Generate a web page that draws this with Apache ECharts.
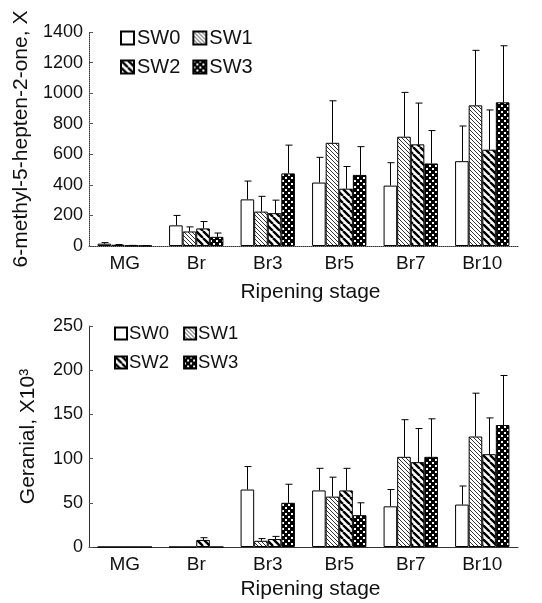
<!DOCTYPE html>
<html>
<head>
<meta charset="utf-8">
<script src="https://cdn.jsdelivr.net/npm/echarts@6/dist/echarts.min.js"></script>
<style>
  html, body { margin: 0; padding: 0; background: #fff; }
  #chart { width: 542px; height: 603px; }
</style>
</head>
<body>
<div id="chart"></div>
<script>
// ripening stages
var stages = ['MG', 'Br', 'Br3', 'Br5', 'Br7', 'Br10']
var names = ['SW0', 'SW1', 'SW2', 'SW3']

// 6-methyl-5-hepten-2-one (top)
var mhoSW0 = [15, 135, 305, 415, 395, 555]
var mhoSW1 = [8, 95, 225, 675, 715, 920]
var mhoSW2 = [3, 115, 215, 375, 665, 630]
var mhoSW3 = [2, 60, 475, 465, 540, 940]
var mhoSd0 = [7, 65, 120, 165, 150, 230]
var mhoSd1 = [2, 30, 100, 275, 290, 360]
var mhoSd2 = [1, 45, 85, 145, 270, 260]
var mhoSd3 = [1, 25, 185, 185, 215, 370]

// geranial x10^3 (bottom)
var gerSW0 = [0, 0, 65, 64, 46, 48]
var gerSW1 = [0, 0, 7, 57, 102, 125]
var gerSW2 = [0, 8, 9, 64, 96, 105]
var gerSW3 = [0, 0, 50, 36, 102, 138]
var gerSd0 = [0, 0, 26, 25, 19, 21]
var gerSd1 = [0, 0, 2.5, 22, 42, 49]
var gerSd2 = [0, 2.5, 3, 25, 38, 41]
var gerSd3 = [0, 0, 21, 14, 43, 56]

var FONT = 'Liberation Sans'
var GAP = 0.24

// fill patterns
function tile(w, h, draw) {
  var c = document.createElement('canvas')
  c.width = w
  c.height = h
  draw(c.getContext('2d'))
  return { image: c, repeat: 'repeat' }
}
var fills = [
  '#fff',
  tile(4, 4, function (g) {
    g.fillStyle = '#fff'; g.fillRect(0, 0, 4, 4)
    g.strokeStyle = '#333'; g.lineWidth = 1
    g.beginPath()
    for (var k = -1; k <= 1; k++) { g.moveTo(k * 4, 0); g.lineTo(k * 4 + 4, 4) }
    g.stroke()
  }),
  tile(7, 7, function (g) {
    g.fillStyle = '#fff'; g.fillRect(0, 0, 7, 7)
    g.strokeStyle = '#000'; g.lineWidth = 2.4
    g.beginPath()
    for (var k = -1; k <= 1; k++) { g.moveTo(k * 7, 0); g.lineTo(k * 7 + 7, 7) }
    g.stroke()
  }),
  tile(6, 6, function (g) {
    g.fillStyle = '#000'; g.fillRect(0, 0, 6, 6)
    g.fillStyle = '#fff'
    g.fillRect(0, 0, 2, 2)
    g.fillRect(3, 3, 2, 2)
  })
]

function barSeries(idx, data, axis) {
  return {
    type: 'bar', name: names[idx], data: data,
    xAxisIndex: axis, yAxisIndex: axis,
    barGap: '0%', barCategoryGap: (GAP * 100) + '%',
    itemStyle: { color: fills[idx], borderColor: '#000', borderWidth: 1 },
    z: 2
  }
}

function errSeries(idx, vals, sds, axis) {
  return {
    type: 'custom', name: names[idx] + ' sd',
    xAxisIndex: axis, yAxisIndex: axis, z: 3,
    data: vals.map(function (v, i) { return [i, v, v + sds[i]] }),
    renderItem: function (params, api) {
      var ci = api.value(0), v = api.value(1), hi = api.value(2)
      if (hi <= v) return
      var band = api.size([1, 0])[0]
      var bw = band * (1 - GAP) / 4
      var p0 = api.coord([ci, v])
      var p1 = api.coord([ci, hi])
      var x = Math.round(p0[0] - 2 * bw + (idx + 0.5) * bw) + 0.5
      var st = { stroke: '#000', lineWidth: 1 }
      return {
        type: 'group',
        children: [
          { type: 'line', shape: { x1: x, y1: p0[1], x2: x, y2: p1[1] }, style: st },
          { type: 'line', shape: { x1: x - 3, y1: p1[1], x2: x + 4, y2: p1[1] }, style: st }
        ]
      }
    }
  }
}

function xAxis(grid, lineType, gap) {
  return {
    type: 'category', data: stages, gridIndex: grid,
    name: 'Ripening stage', nameLocation: 'middle', nameGap: gap,
    nameTextStyle: { fontFamily: FONT, fontSize: 21, color: '#111', padding: [0, 0, 0, 14] },
    axisLine: { lineStyle: { color: '#333', width: 1, type: lineType } },
    axisTick: { inside: true, length: 6, lineStyle: { color: '#555' } },
    axisLabel: { fontFamily: FONT, fontSize: 19, color: '#111', margin: 8 }
  }
}

function yAxis(grid, max, step, name, gap, lineType) {
  return {
    type: 'value', gridIndex: grid, min: 0, max: max, interval: step,
    name: name, nameLocation: 'middle', nameGap: gap,
    nameTextStyle: { fontFamily: FONT, fontSize: 21, color: '#111' },
    axisLine: { show: true, lineStyle: { color: '#333', width: 1, type: lineType } },
    axisTick: { show: true, inside: true, length: 4, lineStyle: { color: '#555' } },
    axisLabel: {
      fontFamily: FONT, fontSize: 18, color: '#111', margin: 6,
      formatter: function (v) { return String(v) }
    },
    splitLine: { show: false }
  }
}

function legends(left, top1, top2, size, icon, gap, textGap) {
  var base = {
    left: left, orient: 'horizontal', itemWidth: icon, itemHeight: icon, itemGap: gap,
    icon: 'rect', padding: 0,
    textStyle: { fontFamily: FONT, fontSize: size, color: '#111', padding: [0, 0, 0, textGap - 5] },
    selectedMode: false
  }
  return [
    Object.assign({}, base, { top: top1, data: ['SW0', 'SW1'] }),
    Object.assign({}, base, { top: top2, data: ['SW2', 'SW3'] })
  ]
}

var chart = echarts.init(document.getElementById('chart'), null, { renderer: 'canvas' })

var mhoVals = [mhoSW0, mhoSW1, mhoSW2, mhoSW3]
var mhoSds = [mhoSd0, mhoSd1, mhoSd2, mhoSd3]
var gerVals = [gerSW0, gerSW1, gerSW2, gerSW3]
var gerSds = [gerSd0, gerSd1, gerSd2, gerSd3]

var series = []
for (var i = 0; i < 4; i++) {
  series.push(barSeries(i, mhoVals[i], 0))
  series.push(errSeries(i, mhoVals[i], mhoSds[i], 0))
  series.push(barSeries(i, gerVals[i], 1))
  series.push(errSeries(i, gerVals[i], gerSds[i], 1))
}

chart.setOption({
  animation: false,
  backgroundColor: '#fff',
  legend: legends(120, 28, 57, 20, 13, 12, 3).concat(legends(114, 324, 353, 18.5, 12, 14, 2)),
  grid: [
    { left: 89, right: 24, top: 32, height: 214 },
    { left: 89, right: 24, top: 326, height: 221 }
  ],
  xAxis: [xAxis(0, 'dotted', 36), xAxis(1, 'solid', 32)],
  yAxis: [
    yAxis(0, 1400, 200, '6-methyl-5-hepten-2-one, X', 56, 'dotted'),
    yAxis(1, 250, 50, 'Geranial, X10\u00b3', 50, 'solid')
  ],
  series: series
})
window.addEventListener('resize', function () { chart.resize() })
</script>
</body>
</html>
